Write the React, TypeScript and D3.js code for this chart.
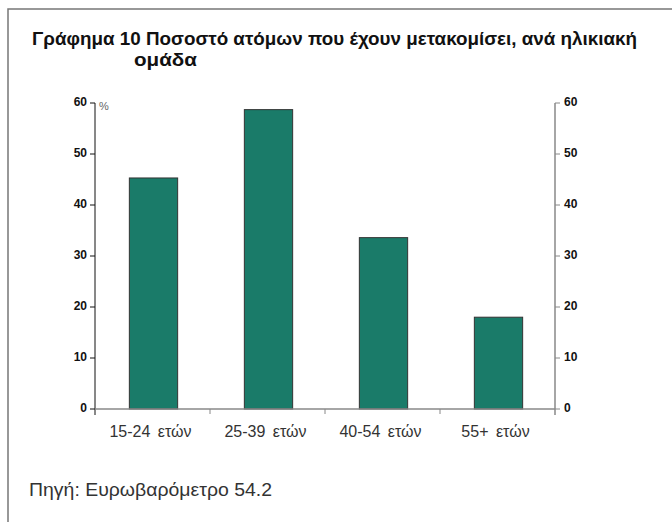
import { useRef, useEffect } from 'react';
import * as d3 from 'd3';

const categories = ['15-24 ετών', '25-39 ετών', '40-54 ετών', '55+ ετών'];
const values = [45.3, 58.7, 33.6, 18.0];
const yTicks = [0, 10, 20, 30, 40, 50, 60];
const titleLines = ['Γράφημα 10 Ποσοστό ατόμων που έχουν μετακομίσει, ανά ηλικιακή', 'ομάδα'];
const source = 'Πηγή: Ευρωβαρόμετρο 54.2';

const W = 672;
const H = 522;
const BAR = '#1a7b69';
const FONT = 'Liberation Sans, Arial, sans-serif';

export default function App() {
  const svgRef = useRef<SVGSVGElement>(null);

  useEffect(() => {
    if (!svgRef.current) return;
    const svg = d3.select(svgRef.current);
    svg.selectAll('*').remove();

    const left = 95, right = 555, top = 103, bottom = 409;
    const x = d3.scaleBand().domain(categories).range([left, right]).paddingInner(0.58).paddingOuter(0.29);
    const xb = d3.scaleBand().domain(categories).range([left, right]);
    const y = d3.scaleLinear().domain([0, 60]).range([bottom, top]);

    // frame
    svg.append('path')
      .attr('d', `M8,${H} L8,9 L${W},9`)
      .attr('fill', 'none').attr('stroke', '#777').attr('stroke-width', 1.5);

    const title = svg.append('g')
      .attr('font-family', FONT)
      .attr('font-weight', 'bold').attr('font-size', 18).attr('fill', '#111');
    title.append('text').attr('x', 32).attr('y', 45)
      .attr('textLength', 605).attr('lengthAdjust', 'spacingAndGlyphs').text(titleLines[0]);
    title.append('text').attr('x', 134).attr('y', 66)
      .attr('textLength', 63).attr('lengthAdjust', 'spacingAndGlyphs').text(titleLines[1]);

    // bars
    svg.append('g').selectAll('rect')
      .data(values)
      .enter().append('rect')
      .attr('x', (d, i) => x(categories[i])! + 1)
      .attr('y', d => y(d))
      .attr('width', x.bandwidth())
      .attr('height', d => bottom - y(d))
      .attr('fill', BAR)
      .attr('stroke', '#333').attr('stroke-width', 1);

    // left axis
    const la = svg.append('g');
    la.append('line').attr('x1', left).attr('x2', left).attr('y1', top).attr('y2', bottom + 6)
      .attr('stroke', '#111').attr('stroke-width', 1);
    la.selectAll('line.t').data(yTicks).enter().append('line')
      .attr('x1', left - 5).attr('x2', left).attr('y1', d => y(d)).attr('y2', d => y(d))
      .attr('stroke', '#111');
    la.selectAll('text').data(yTicks).enter().append('text')
      .attr('x', left - 8).attr('y', d => y(d) + 3)
      .attr('text-anchor', 'end')
      .attr('font-family', FONT)
      .attr('font-weight', 'bold').attr('font-size', 12).attr('fill', '#111')
      .text(d => d);
    svg.append('text').attr('x', 99).attr('y', 110)
      .attr('font-family', FONT)
      .attr('font-size', 11).attr('fill', '#666').text('%');

    // right axis
    const ra = svg.append('g');
    ra.append('line').attr('x1', right).attr('x2', right).attr('y1', top).attr('y2', bottom + 6)
      .attr('stroke', '#888').attr('stroke-width', 1.5);
    ra.selectAll('line.t').data(yTicks).enter().append('line')
      .attr('x1', right).attr('x2', right + 5).attr('y1', d => y(d)).attr('y2', d => y(d))
      .attr('stroke', '#888');
    ra.selectAll('text').data(yTicks).enter().append('text')
      .attr('x', right + 9).attr('y', d => y(d) + 3)
      .attr('font-family', FONT)
      .attr('font-weight', 'bold').attr('font-size', 12).attr('fill', '#111')
      .text(d => d);

    // x axis
    const xa = svg.append('g');
    xa.append('line').attr('x1', left).attr('x2', right).attr('y1', bottom).attr('y2', bottom)
      .attr('stroke', '#888').attr('stroke-width', 1.5);
    xa.selectAll('line.t').data(categories.slice(1)).enter().append('line')
      .attr('x1', d => xb(d)!).attr('x2', d => xb(d)!)
      .attr('y1', bottom).attr('y2', bottom + 5)
      .attr('stroke', '#888');
    xa.selectAll('text').data(categories).enter().append('text')
      .attr('x', d => xb(d)! + xb.bandwidth() / 2 - 2)
      .attr('y', 437)
      .attr('text-anchor', 'middle')
      .attr('font-family', FONT)
      .attr('font-size', 16).attr('fill', '#333')
      .attr('word-spacing', 3)
      .text(d => d);

    svg.append('text').attr('x', 29).attr('y', 496)
      .attr('font-family', FONT)
      .attr('font-size', 18).attr('fill', '#333')
      .attr('textLength', 243).attr('lengthAdjust', 'spacingAndGlyphs')
      .text(source);
  }, []);

  return (
    <div style={{ position: 'absolute', left: 0, top: 0, width: W, height: H, background: '#fff' }}>
      <svg ref={svgRef} width={W} height={H} />
    </div>
  );
}
